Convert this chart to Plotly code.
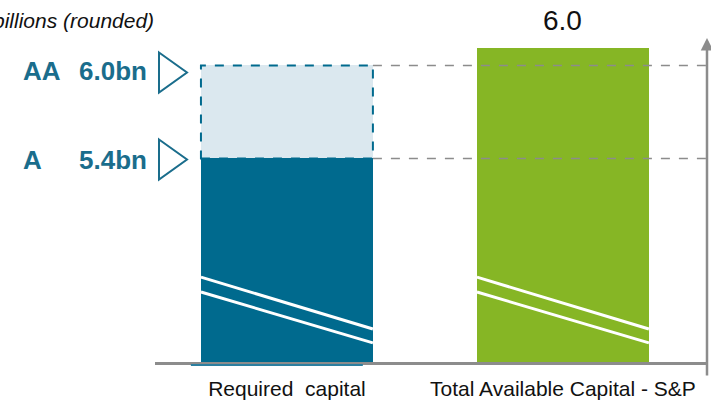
import plotly.graph_objects as go

# ---- data ----
categories = ["Required\u00a0 capital", "Total Available Capital - S&P"]
rating_names = ["AA", "A"]
rating_values = [6.0, 5.4]          # bn
available_value = 6.11              # bn (bar height)
available_label = "6.0"
title_text = "billions (rounded)"

# ---- styles ----
TEAL = "#006A8E"
TEAL_TXT = "#1A6D8C"
LIGHT = "#DBE8EF"
GREEN = "#86B625"
GRAY = "#8C8C8C"
FONT = "Liberation Sans, Arial, sans-serif"
BAR_W = 0.623
X_RANGE = [-0.478, 1.522]
Y_RANGE = [4.087, 6.177]

required_low = min(rating_values)
required_high = max(rating_values)

fig = go.Figure()
fig.add_trace(go.Bar(
    x=[0, 1], y=[required_low, available_value],
    marker=dict(color=[TEAL, GREEN], line=dict(width=0)),
    width=BAR_W, hoverinfo="skip", showlegend=False))
fig.add_trace(go.Bar(
    x=[0], y=[required_high - required_low], base=[required_low],
    marker=dict(color=LIGHT, line=dict(width=0)),
    width=BAR_W, hoverinfo="skip", showlegend=False))

shapes = []
# dashed outline of the upper (AA) part of required capital bar
shapes.append(dict(type="rect", xref="x", yref="y",
                   x0=-BAR_W / 2, x1=BAR_W / 2, y0=required_low, y1=required_high,
                   line=dict(color=TEAL, width=2, dash="dash"), layer="above"))
# gray dashed reference lines
for v in rating_values:
    shapes.append(dict(type="line", xref="x", yref="y",
                       x0=BAR_W / 2, x1=X_RANGE[1], y0=v, y1=v,
                       line=dict(color=GRAY, width=1.5, dash="dash"), layer="above"))
# axis-break marks
for i in range(len(categories)):
    for (ya, yb) in [(0.262, 0.102), (0.216, 0.059)]:
        shapes.append(dict(type="line", xref="x", yref="paper",
                           x0=i - BAR_W / 2, x1=i + BAR_W / 2, y0=ya, y1=yb,
                           line=dict(color="white", width=3), layer="above"))
# teal underline below first bar
shapes.append(dict(type="line", xref="x", yref="paper", ysizemode="pixel", yanchor=0,
                   x0=-0.348, x1=0.275, y0=-3, y1=-3,
                   line=dict(color="#2C7FA0", width=2)))
# triangles for ratings
tri_offsets = {"AA": -7, "A": -1}
for name, v in zip(rating_names, rating_values):
    o = tri_offsets[name]
    shapes.append(dict(type="path", xref="paper", yref="y",
                       xsizemode="pixel", ysizemode="pixel", xanchor=0, yanchor=v,
                       path=f"M 4 {o + 20} L 32 {o} L 4 {o - 20} Z",
                       line=dict(color=TEAL_TXT, width=2), fillcolor="rgba(0,0,0,0)"))

annotations = []
for name, v in zip(rating_names, rating_values):
    ys = -6 if name == "AA" else -1.5
    annotations.append(dict(xref="paper", yref="y", x=0, y=v, xshift=-134, yshift=ys,
                            xanchor="left", yanchor="middle", showarrow=False,
                            text=f"<b>{name}</b>",
                            font=dict(family=FONT, size=26, color=TEAL_TXT)))
    annotations.append(dict(xref="paper", yref="y", x=0, y=v, xshift=-78, yshift=ys,
                            xanchor="left", yanchor="middle", showarrow=False,
                            text=f"<b>{v:.1f}bn</b>",
                            font=dict(family=FONT, size=26, color=TEAL_TXT)))
annotations.append(dict(xref="x", yref="y", x=1, y=available_value, yshift=28,
                        xanchor="center", yanchor="middle", showarrow=False,
                        text=available_label,
                        font=dict(family=FONT, size=28, color="#111111")))
annotations.append(dict(xref="paper", yref="paper", x=0, y=1, xshift=1, yshift=18,
                        xanchor="right", yanchor="middle", showarrow=False,
                        text=f"<i>{title_text}</i>",
                        font=dict(family=FONT, size=21, color="#111111")))
# vertical arrow axis on the right
annotations.append(dict(xref="paper", yref="paper", x=1, y=1, ax=0, ay=339,
                        axref="pixel", ayref="pixel", showarrow=True, text="",
                        arrowhead=2, arrowsize=1.0, arrowwidth=2.5, arrowcolor=GRAY))

fig.update_layout(
    width=711, height=401,
    margin=dict(l=155, r=4, t=38, b=39),
    paper_bgcolor="white", plot_bgcolor="white",
    barmode="overlay", bargap=0,
    shapes=shapes, annotations=annotations,
    xaxis=dict(range=X_RANGE, tickvals=[0, 1], ticktext=categories,
               showgrid=False, zeroline=False, showline=True, linecolor=GRAY,
               linewidth=2.5, ticks="", ticklabelstandoff=6, automargin=False,
               tickfont=dict(family=FONT, size=21, color="#111111")),
    yaxis=dict(range=Y_RANGE, visible=False, showgrid=False, zeroline=False,
               automargin=False),
    font=dict(family=FONT),
)

fig.write_html("out.html")
